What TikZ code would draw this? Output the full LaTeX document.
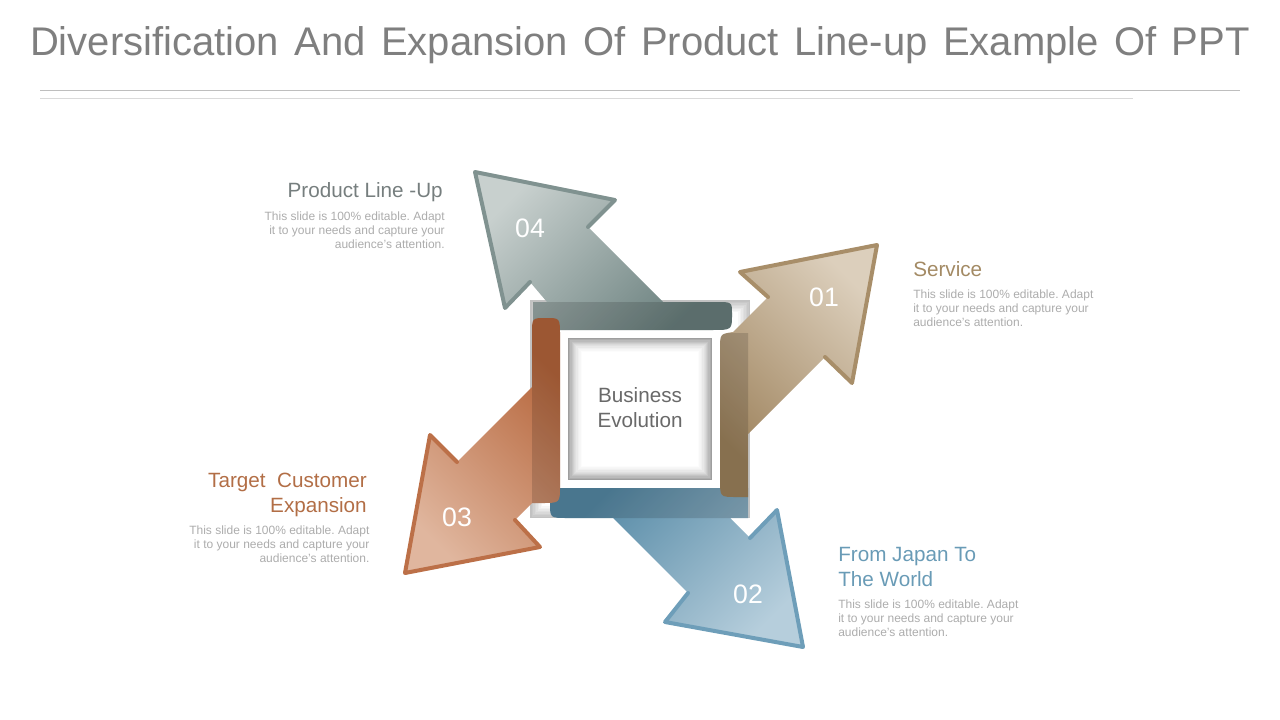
\documentclass[tikz,border=0pt]{standalone}
\usepackage{fontspec}
\setmainfont{Liberation Sans}
\usetikzlibrary{positioning}
\frenchspacing

\definecolor{titlegray}{RGB}{127,127,127}
\definecolor{rulegray}{RGB}{190,190,190}
\definecolor{rulelight}{RGB}{218,218,218}
\definecolor{bodygray}{RGB}{172,172,172}
\definecolor{midgray}{RGB}{105,105,105}
\definecolor{grayA}{RGB}{200,208,206}
\definecolor{grayB}{RGB}{106,128,126}
\definecolor{grayE}{RGB}{128,146,144}
\definecolor{tanA}{RGB}{220,207,188}
\definecolor{tanB}{RGB}{158,131,93}
\definecolor{tanE}{RGB}{168,142,105}
\definecolor{blueA}{RGB}{182,206,220}
\definecolor{blueB}{RGB}{86,138,166}
\definecolor{blueE}{RGB}{110,158,185}
\definecolor{rustA}{RGB}{224,182,158}
\definecolor{rustB}{RGB}{182,102,60}
\definecolor{rustE}{RGB}{188,112,72}
\definecolor{txtgray}{RGB}{118,126,126}
\definecolor{txttan}{RGB}{163,138,100}
\definecolor{txtrust}{RGB}{178,110,70}
\definecolor{txtblue}{RGB}{105,155,182}
\newcommand\titlefont{\fontsize{30}{36}\selectfont\spaceskip=11.6pt plus 2pt\relax}

\begin{document}
\begin{tikzpicture}[x=0.75pt, y=-0.75pt,
  numtext/.style = {inner sep=0pt, text=white, font=\fontsize{20}{24}\selectfont},
  headtext/.style = {inner sep=0pt, font=\fontsize{15.5}{18.75}\selectfont},
  bodytext/.style = {inner sep=0pt, text=bodygray, font=\fontsize{9}{10.5}\selectfont},
  headrim/.style = {line width=3pt, line join=round, line cap=round},
  bandshade/.style = {fill=black, opacity=.14}]
\useasboundingbox (0,0) rectangle (1280,720);

\node[text=titlegray, anchor=base, inner sep=0pt, font=\titlefont] (title) at (640,56)
  {Diversification And Expansion Of Product Line-up Example Of PPT};
\draw[rulegray, line width=.75pt] (40,91) -- (1240,91);
\draw[rulelight, line width=.75pt] (40,99) -- (1133,99);

% frame
\foreach \i [evaluate=\i as \c using int(24-3*\i)] in {0,...,8}
  \fill[black!\c] ({530+1.5*\i},{300+1.5*\i}) rectangle ({750-1.5*\i},{518-1.5*\i});
\foreach \i [evaluate=\i as \c using int(38*(1-\i/14)*(1-\i/14))] in {0,...,14}
  \fill[black!\c] ({568+1.2*\i},{338+1.2*\i}) rectangle ({712-1.2*\i},{480-1.2*\i});

% 02
\shade[top color=blueB, bottom color=blueA, shading angle=45]
  (748,488) -- (748,518) -- (730,518) -- (750,538) -- (777,510) -- (803,647)
  -- (665,622) -- (688,593) -- (613,518) -- (568,518) .. controls (550,518) .. (550,503)
  .. controls (550,488) .. (568,488) -- cycle;
\draw[headrim, blueE] (750,538) -- (777,510) -- (803,647) -- (665,622) -- (688,593);
\fill[bandshade] (748,488) -- (748,518) -- (568,518) .. controls (550,518) .. (550,503)
  .. controls (550,488) .. (568,488) -- cycle;

% 01
\shade[top color=tanA, bottom color=tanB, shading angle=-45]
  (748,497) -- (748,434) -- (825,357) -- (852,383) -- (877,245) -- (740,272)
  -- (768,297) -- (733,332) .. controls (720,334) .. (720,350) -- (720,479)
  .. controls (720,497) .. (736,497) -- cycle;
\draw[headrim, tanE] (825,357) -- (852,383) -- (877,245) -- (740,272) -- (768,297);
\fill[bandshade] (748,333) -- (748,497) -- (736,497) .. controls (720,497) .. (720,479)
  -- (720,350) .. controls (720,333) .. (736,333) -- cycle;

% 04
\shade[top color=grayA, bottom color=grayB, shading angle=45]
  (533,330) -- (533,302) -- (547,302) -- (530,282) -- (505,308) -- (475,172)
  -- (615,200) -- (588,227) -- (663,302) -- (716,302) .. controls (732,302) .. (732,314)
  .. controls (732,330) .. (712,330) -- cycle;
\draw[headrim, grayE] (530,282) -- (505,308) -- (475,172) -- (615,200) -- (588,227);
\fill[bandshade] (533,302) -- (716,302) .. controls (732,302) .. (732,314)
  .. controls (732,330) .. (712,330) -- (533,330) -- cycle;

% 03
\shade[top color=rustB, bottom color=rustA, shading angle=-45]
  (542,503) -- (532,503) -- (515,520) -- (540,547) -- (405,573) -- (430,435)
  -- (457,462) -- (532,387) -- (532,334) .. controls (532,318) .. (546,318)
  .. controls (560,318) .. (560,336) -- (560,485) .. controls (560,503) .. (542,503) -- cycle;
\draw[headrim, rustE] (515,520) -- (540,547) -- (405,573) -- (430,435) -- (457,462);
\fill[bandshade] (532,503) -- (542,503) .. controls (560,503) .. (560,485) -- (560,336)
  .. controls (560,318) .. (546,318) .. controls (532,318) .. (532,334) -- cycle;

% numbers
\node[numtext] (n4) at (530,228) {04};
\node[numtext] (n1) at (824,297) {01};
\node[numtext] (n3) at (457,517) {03};
\node[numtext] (n2) at (748,594) {02};

\node[align=center, text=midgray, font=\fontsize{15.5}{18.75}\selectfont] (core) at (640,408)
  {Business\\Evolution};

% texts
\node[headtext, text=txtgray, anchor=base east] (h4) at (443,198) {Product Line -Up};
\node[bodytext, align=right, below left=10pt and -1.5pt of h4.base east] (b4)
  {This slide is 100\% editable. Adapt\\it to your needs and capture your\\audience's attention.};

\node[headtext, text=txttan, anchor=base west] (h1) at (913,276) {Service};
\node[bodytext, align=left, below right=10pt and 0pt of h1.base west] (b1)
  {This slide is 100\% editable. Adapt\\it to your needs and capture your\\audience's attention.};

\node[headtext, text=txtrust, align=right, anchor=base east] (h3) at (367,512)
  {Target\ \ Customer\\Expansion};
\node[bodytext, align=right, below left=10pt and -2pt of h3.base east] (b3)
  {This slide is 100\% editable. Adapt\\it to your needs and capture your\\audience's attention.};

\node[headtext, text=txtblue, align=left, anchor=base west] (h2) at (838,586)
  {From Japan To\\The World};
\node[bodytext, align=left, below right=10pt and 0pt of h2.base west] (b2)
  {This slide is 100\% editable. Adapt\\it to your needs and capture your\\audience's attention.};
\end{tikzpicture}
\end{document}
